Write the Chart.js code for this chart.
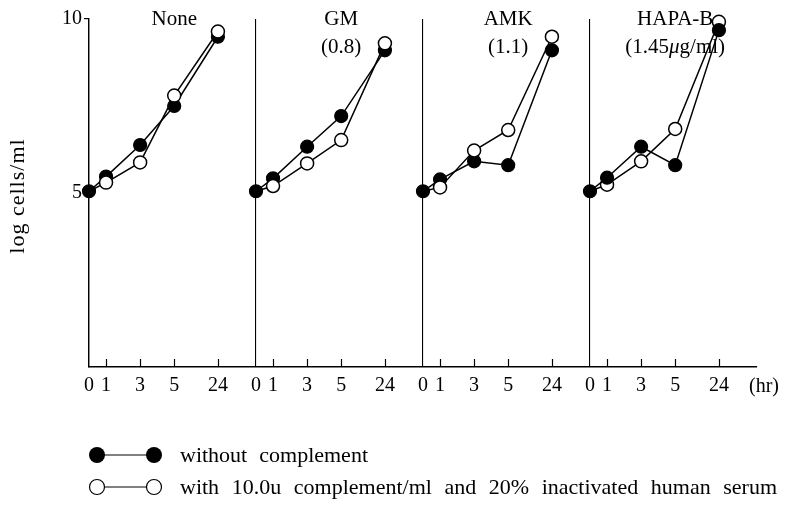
<!DOCTYPE html>
<html><head><meta charset="utf-8">
<script src="https://cdn.jsdelivr.net/npm/chart.js@4/dist/chart.umd.min.js"></script>
<style>html,body{margin:0;padding:0;background:#fff}canvas{display:block}</style>
</head><body>
<canvas id="c" width="794" height="510"></canvas>
<script>
// ---- data ----
const hours = [0, 1, 3, 5, 24];
const hourLabels = ['0', '1', '3', '5', '24'];
const panelNames = ['None', 'GM', 'AMK', 'HAPA-B'];
const panelDoses = ['', '(0.8)', '(1.1)', '(1.45μg/ml)'];
const yTickValues = [5, 10];

const noneWithout  = [5.05, 5.47, 6.38, 7.50, 9.49];
const noneWith     = [5.05, 5.30, 5.88, 7.80, 9.64];
const gmWithout    = [5.05, 5.42, 6.33, 7.21, 9.10];
const gmWith       = [5.05, 5.20, 5.85, 6.52, 9.30];
const amkWithout   = [5.05, 5.39, 5.91, 5.80, 9.10];
const amkWith      = [5.05, 5.16, 6.22, 6.81, 9.49];
const hapaWithout  = [5.05, 5.44, 6.33, 5.80, 9.68];
const hapaWith     = [5.05, 5.24, 5.91, 6.84, 9.92];

const withoutSeries = [noneWithout, gmWithout, amkWithout, hapaWithout];
const withSeries    = [noneWith, gmWith, amkWith, hapaWith];

const legendWithout = 'without complement';
const legendWith = 'with 10.0u complement/ml and 20% inactivated human serum';
const yTitle = 'log cells/ml';
const xUnit = '(hr)';

// ---- axis layout (broken time axis: 24 h compressed) ----
const P = 9.8; // width of one panel in axis units
function axisPos(h) { return h <= 5 ? h : 5 + (h - 5) * 0.135; }

const SERIF = "'Liberation Serif', 'DejaVu Serif', serif";
const R = 6.5;

const datasets = [];
for (let p = 0; p < 4; p++) {
  datasets.push({
    label: 'without complement ' + panelNames[p],
    data: hours.map((h, i) => ({ x: p * P + axisPos(h), y: withoutSeries[p][i] })),
    borderColor: '#000', borderWidth: 1.5,
    pointBackgroundColor: '#000', pointBorderColor: '#000', pointBorderWidth: 1.2,
    pointRadius: R, tension: 0, clip: false,
    order: p === 3 ? -1 : 1
  });
  datasets.push({
    label: 'with complement ' + panelNames[p],
    data: hours.map((h, i) => ({ x: p * P + axisPos(h), y: withSeries[p][i] })),
    borderColor: '#000', borderWidth: 1.5,
    pointBackgroundColor: '#fff', pointBorderColor: '#000', pointBorderWidth: 1.5,
    pointRadius: hours.map((h, i) => i === 0 ? 0 : R), tension: 0, clip: false,
    order: 0
  });
}

const decor = {
  id: 'decor',
  afterDraw(chart) {
    const ctx = chart.ctx, xs = chart.scales.x, ys = chart.scales.y, a = chart.chartArea;
    ctx.save();
    ctx.strokeStyle = '#000'; ctx.fillStyle = '#000';
    // small upward tick marks
    ctx.lineWidth = 1.2;
    for (let p = 0; p < 4; p++) {
      hours.forEach((h, i) => {
        if (i === 0) return;
        const x = Math.round(xs.getPixelForValue(p * P + axisPos(h))) + 0.5;
        ctx.beginPath(); ctx.moveTo(x, a.bottom); ctx.lineTo(x, a.bottom - 8); ctx.stroke();
      });
    }
    // panel titles
    ctx.textAlign = 'center'; ctx.textBaseline = 'middle';
    for (let p = 0; p < 4; p++) {
      const cx = xs.getPixelForValue(p * P + axisPos(5));
      ctx.font = '21px ' + SERIF;
      ctx.fillText(panelNames[p], cx, ys.getPixelForValue(10));
      if (panelDoses[p]) {
        const txt = panelDoses[p];
        const mu = txt.indexOf('μ');
        const y2 = ys.getPixelForValue(10) + 28;
        if (mu < 0) {
          ctx.fillText(txt, cx, y2);
        } else {
          const parts = [[txt.slice(0, mu), '21px ' + SERIF], ['μ', 'italic 21px ' + SERIF], [txt.slice(mu + 1), '21px ' + SERIF]];
          let total = 0;
          parts.forEach(pt => { ctx.font = pt[1]; total += ctx.measureText(pt[0]).width; });
          let x = cx - total / 2;
          ctx.textAlign = 'left';
          parts.forEach(pt => { ctx.font = pt[1]; ctx.fillText(pt[0], x, y2); x += ctx.measureText(pt[0]).width; });
          ctx.textAlign = 'center';
        }
      }
    }
    // unit label
    ctx.font = '20px ' + SERIF;
    ctx.fillText(xUnit, 764, 387);
    // y title
    ctx.save();
    ctx.translate(18, 196); ctx.rotate(-Math.PI / 2);
    ctx.font = '22px ' + SERIF;
    try { ctx.letterSpacing = '1px'; } catch (e) {}
    ctx.fillText(yTitle, 0, 0);
    ctx.restore();
    // legend
    function marker(y, filled) {
      ctx.lineWidth = 1;
      ctx.beginPath(); ctx.moveTo(97, y); ctx.lineTo(154, y); ctx.stroke();
      [97, 154].forEach(cx => {
        ctx.beginPath(); ctx.arc(cx, y, filled ? 8 : 7.5, 0, Math.PI * 2);
        if (filled) { ctx.fill(); } else { ctx.fillStyle = '#fff'; ctx.fill(); ctx.fillStyle = '#000'; ctx.lineWidth = 1.2; ctx.stroke(); }
      });
    }
    function words(text, x, y, endX) {
      const w = text.split(' ');
      const widths = w.map(s => ctx.measureText(s).width);
      const sum = widths.reduce((s, v) => s + v, 0);
      const gap = w.length > 1 ? (endX - x - sum) / (w.length - 1) : 0;
      ctx.textAlign = 'left';
      w.forEach((s, i) => { ctx.fillText(s, x, y); x += widths[i] + gap; });
    }
    ctx.font = '22px ' + SERIF; ctx.textBaseline = 'middle';
    marker(455, true);
    words(legendWithout, 180, 456, 368);
    marker(487, false);
    words(legendWith, 180, 488, 777);
    ctx.restore();
  }
};

new Chart(document.getElementById('c'), {
  type: 'line',
  data: { datasets },
  options: {
    responsive: false, animation: false,
    layout: { padding: { left: 0, right: 37, top: 19, bottom: 103 } },
    plugins: { legend: { display: false }, tooltip: { enabled: false } },
    scales: {
      x: {
        type: 'linear', min: 0, max: 4 * P,
        afterBuildTicks: sc => { sc.ticks = panelNames.flatMap((_, p) => hours.map(h => ({ value: p * P + axisPos(h) }))); },
        afterFit: sc => { sc.height = 40; },
        ticks: { autoSkip: false, maxRotation: 0, padding: 7, color: '#000',
                 font: { family: SERIF, size: 20 },
                 callback: (v, i) => hourLabels[i % hours.length] },
        grid: { drawTicks: false, lineWidth: 1.1,
                color: c => (c.tick && c.index % hours.length === 0) ? '#000' : 'rgba(0,0,0,0)' },
        border: { display: true, color: '#000', width: 1.4 }
      },
      y: {
        type: 'linear', min: 0, max: 10,
        afterBuildTicks: sc => { sc.ticks = yTickValues.map(v => ({ value: v })); },
        afterFit: sc => { sc.width = 89; },
        ticks: { padding: 2, color: '#000', font: { family: SERIF, size: 20 } },
        grid: { drawOnChartArea: false, drawTicks: true, tickLength: 5, color: '#000', lineWidth: 1.2 },
        border: { display: true, color: '#000', width: 1.4 }
      }
    }
  },
  plugins: [decor]
});
</script>
</body></html>
